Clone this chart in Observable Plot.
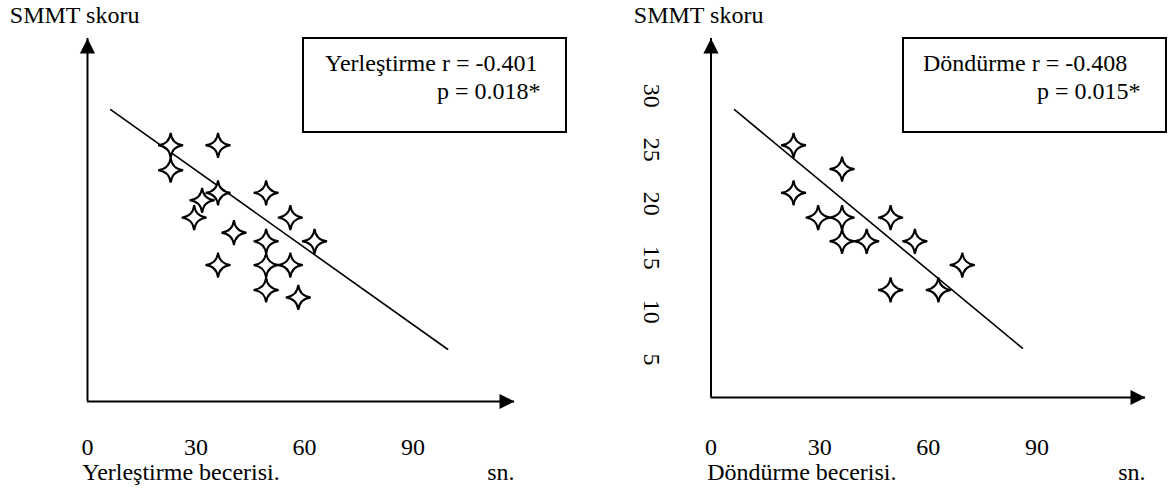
<!DOCTYPE html>
<html><head><meta charset="utf-8">
<script src="https://cdn.jsdelivr.net/npm/d3@7"></script>
<script src="https://cdn.jsdelivr.net/npm/@observablehq/plot@0.6"></script>
<style>
html,body{margin:0;padding:0;background:#fff;}
#wrap{position:relative;width:1169px;height:493px;overflow:hidden;font-family:"Liberation Serif","Times New Roman",serif;font-size:24px;color:#000;background:#fff;}
.panel{position:absolute;top:0;}
.box{position:absolute;border:2px solid #000;box-sizing:border-box;}
.t{position:absolute;white-space:nowrap;line-height:24px;}
</style></head><body><div id="wrap"></div>
<script>
// ---- data ----
const yTitle = "SMMT skoru";
const unitLabel = "sn.";
const xTicks = [0, 30, 60, 90];
const yTicksRight = [30, 25, 20, 15, 10, 5];

const leftTitle = "Yerleştirme becerisi.";
const leftX = [23.0, 36.1, 23.0, 36.1, 31.7, 29.5, 49.4, 56.1, 40.5, 49.4, 62.8, 36.1, 49.4, 56.1, 49.4, 58.3];
const leftY = [24.3, 24.3, 22.0, 19.9, 19.2, 17.6, 19.9, 17.6, 16.2, 15.4, 15.4, 13.2, 13.2, 13.2, 10.9, 10.2];
const leftLineX = [6.4, 99.6];
const leftLineY = [27.6, 5.4];
const leftStat1 = "Yerleştirme r = -0.401";
const leftStat2 = "p = 0.018*";

const rightTitle = "Döndürme becerisi.";
const rightX = [22.8, 36.2, 22.8, 29.6, 36.2, 49.6, 36.2, 43.0, 56.3, 69.4, 49.6, 62.8];
const rightY = [24.3, 22.1, 19.9, 17.6, 17.6, 17.6, 15.4, 15.4, 15.4, 13.2, 10.9, 10.9];
const rightLineX = [6.5, 86.0];
const rightLineY = [27.6, 5.5];
const rightStat1 = "Döndürme r = -0.408";
const rightStat2 = "p = 0.015*";

// scale extents
const leftXDomain = [0, 118.1];
const leftYDomain = [0.56, 34.2];
const rightXDomain = [0, 120];
const rightYDomain = [0.93, 34.2];

// ---- symbols ----
const star4 = {
  draw(c, size) {
    const r = Math.sqrt(size / Math.PI);
    const k = r * 0.1;
    c.moveTo(0, -r);
    c.quadraticCurveTo(k, -k, r, 0);
    c.quadraticCurveTo(k, k, 0, r);
    c.quadraticCurveTo(-k, k, -r, 0);
    c.quadraticCurveTo(-k, -k, 0, -r);
    c.closePath();
  }
};
const arrowUp = {draw(c) { c.moveTo(0, 0); c.lineTo(-7.6, 15); c.lineTo(7.6, 15); c.closePath(); }};
const arrowRight = {draw(c) { c.moveTo(0, 0); c.lineTo(-15, -7.6); c.lineTo(-15, 7.6); c.closePath(); }};

const FONT = "Liberation Serif, Times New Roman, serif";

function panel(opts) {
  const {xs, ys, lx, ly, xDom, yDom, width, mL, mR, mB, title, titleDx, xTitleDx, xTitleDy, tickPad, rotTicks} = opts;
  const pts = xs.map((x, i) => ({x, y: ys[i]}));
  const line = lx.map((x, i) => ({x, y: ly[i]}));
  const marks = [
    Plot.ruleX([xDom[0]], {stroke: "black", strokeWidth: 2}),
    Plot.ruleY([yDom[0]], {stroke: "black", strokeWidth: 2}),
    Plot.dot([{x: xDom[0], y: yDom[1]}], {x: "x", y: "y", symbol: arrowUp, fill: "black", stroke: "none"}),
    Plot.dot([{x: xDom[1], y: yDom[0]}], {x: "x", y: "y", symbol: arrowRight, fill: "black", stroke: "none"}),
    Plot.line(line, {x: "x", y: "y", stroke: "black", strokeWidth: 1.6}),
    Plot.dot(pts, {x: "x", y: "y", symbol: star4, r: 12.5, fill: "white", stroke: "black", strokeWidth: 2}),
    Plot.text(xTicks, {x: d => d, text: d => String(d), frameAnchor: "bottom", dy: tickPad, lineAnchor: "top", textAnchor: "middle", fontSize: 24, fontFamily: FONT, fill: "black"}),
    Plot.text([title], {text: d => d, frameAnchor: "bottom-left", dx: xTitleDx, dy: xTitleDy, lineAnchor: "top", textAnchor: "start", fontSize: 24, fontFamily: FONT, fill: "black"}),
    Plot.text([unitLabel], {text: d => d, frameAnchor: "bottom-right", dx: 0, dy: xTitleDy, lineAnchor: "top", textAnchor: "end", fontSize: 24, fontFamily: FONT, fill: "black"}),
    Plot.text([yTitle], {text: d => d, frameAnchor: "top-left", dx: titleDx, dy: -32.3, lineAnchor: "top", textAnchor: "start", fontSize: 24, fontFamily: FONT, fill: "black"})
  ];
  if (rotTicks) {
    marks.push(Plot.text(rotTicks, {y: d => d, text: d => String(d), frameAnchor: "left", dx: -59, rotate: 90, textAnchor: "start", lineAnchor: "middle", fontSize: 24, fontFamily: FONT, fill: "black"}));
  }
  return Plot.plot({
    width, height: 493,
    marginLeft: mL, marginRight: mR, marginTop: 38, marginBottom: mB,
    x: {domain: xDom, axis: null},
    y: {domain: yDom, axis: null},
    style: {fontFamily: FONT, fontSize: "24px", background: "transparent", overflow: "visible", color: "black"},
    marks
  });
}

const wrap = document.getElementById("wrap");

const left = panel({xs: leftX, ys: leftY, lx: leftLineX, ly: leftLineY, xDom: leftXDomain, yDom: leftYDomain,
  width: 584, mL: 87, mR: 70, mB: 92, title: leftTitle, titleDx: -77.7, xTitleDx: -5.3, xTitleDy: 61, tickPad: 36, rotTicks: null});
left.classList.add("panel"); left.style.left = "0px";
wrap.appendChild(left);

const right = panel({xs: rightX, ys: rightY, lx: rightLineX, ly: rightLineY, xDom: rightXDomain, yDom: rightYDomain,
  width: 585, mL: 126.5, mR: 24, mB: 96, title: rightTitle, titleDx: -77.2, xTitleDx: -3.8, xTitleDy: 65, tickPad: 40, rotTicks: yTicksRight});
right.classList.add("panel"); right.style.left = "584px";
wrap.appendChild(right);

// annotation boxes
function box(left, l1x, l2x, s1, s2) {
  const b = document.createElement("div");
  b.className = "box";
  Object.assign(b.style, {left: left + "px", top: "37px", width: "265px", height: "96px"});
  wrap.appendChild(b);
  const t1 = document.createElement("div");
  t1.className = "t"; t1.textContent = s1;
  Object.assign(t1.style, {left: l1x + "px", top: "51px"});
  wrap.appendChild(t1);
  const t2 = document.createElement("div");
  t2.className = "t"; t2.textContent = s2;
  Object.assign(t2.style, {left: l2x + "px", top: "78.5px"});
  wrap.appendChild(t2);
}
box(302, 325, 437, leftStat1, leftStat2);
box(902, 923, 1037, rightStat1, rightStat2);
</script></body></html>
